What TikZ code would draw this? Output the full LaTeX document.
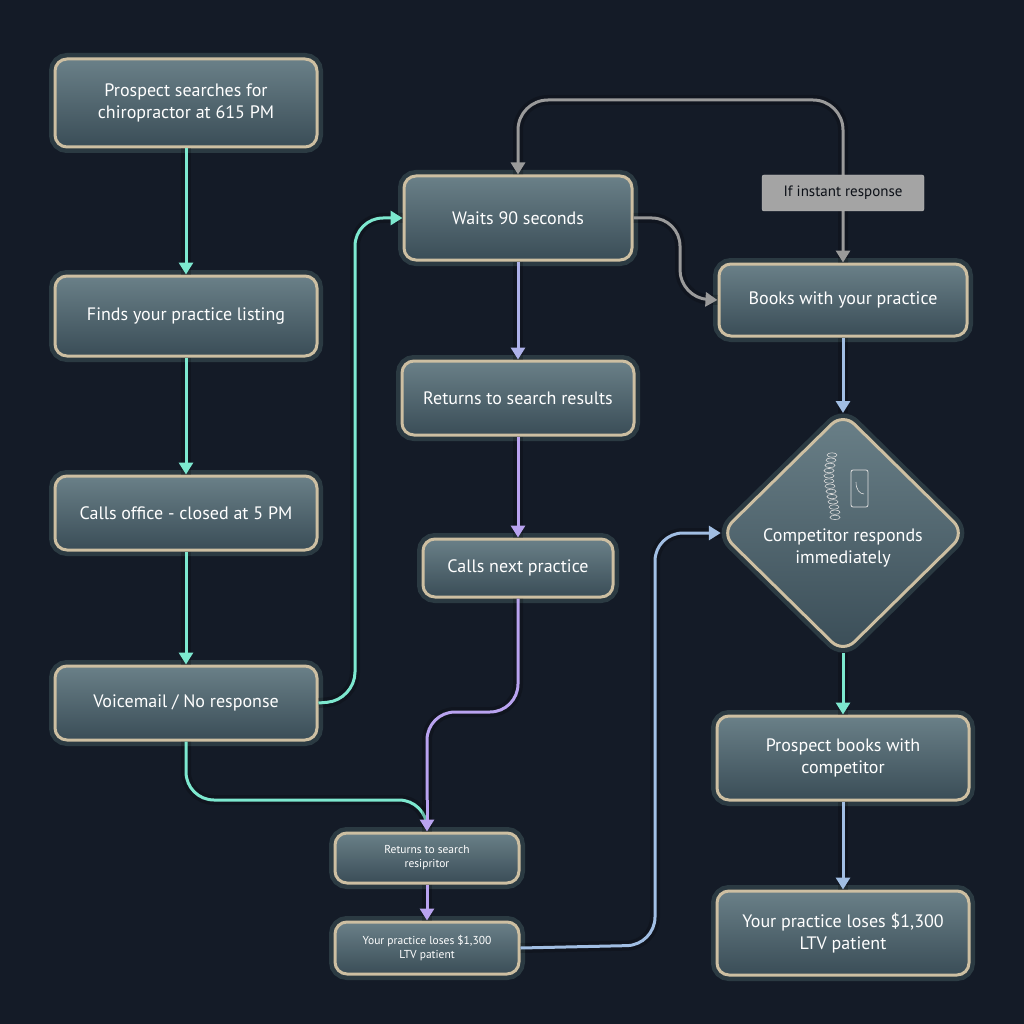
\documentclass[tikz,border=0pt]{standalone}
\usepackage{fontspec}
\setmainfont{PT Sans}
\usetikzlibrary{arrows.meta,shapes.geometric}
\definecolor{bg}{HTML}{141B27}
\definecolor{cy}{HTML}{7DE8CF}
\definecolor{lv}{HTML}{B9A3F0}
\definecolor{gy}{HTML}{9A9A9A}
\definecolor{bord}{HTML}{CDBFA2}
\definecolor{fillA}{HTML}{6A8088}
\definecolor{fillB}{HTML}{3A4D57}
\begin{document}
\begin{tikzpicture}[x=1pt,y=-1pt,
 box/.style={draw=bord,line width=3pt,rounded corners=12pt,top color=fillA,bottom color=fillB,
   text=white,align=center,font=\fontsize{18}{22}\selectfont,inner sep=0pt,
   preaction={draw=cy!60!white,line width=12pt,opacity=0.15}},
 sbox/.style={box,font=\fontsize{11.5}{14}\selectfont},
 ln/.style={line width=3pt,-{Triangle[length=12pt,width=14pt]},rounded corners=28pt,
   preaction={draw,line width=10pt,opacity=0.2,-}},
 cyl/.style={ln,cy},lvl/.style={ln,lv},gyl/.style={ln,gy}]
\fill[bg] (0,0) rectangle (1024,1024);
\useasboundingbox (0,0) rectangle (1024,1024);
% nodes
\node[box,minimum width=262,minimum height=88] (A) at (186,103) {Prospect searches for\\chiropractor at 615 PM};
\node[box,minimum width=262,minimum height=80] (B) at (186,316) {Finds your practice listing};
\node[box,minimum width=262,minimum height=74] (C) at (186,513) {Calls office - closed at 5 PM};
\node[box,minimum width=262,minimum height=74] (D) at (186,703) {Voicemail / No response};
\node[box,minimum width=228,minimum height=84] (E) at (518,218) {Waits 90 seconds};
\node[box,minimum width=232,minimum height=74] (F) at (518,398) {Returns to search results};
\node[box,minimum width=190,minimum height=58] (G) at (518,568) {Calls next practice};
\node[box,minimum width=248,minimum height=72] (H) at (843,300) {Books with your practice};
\node[box,minimum width=252,minimum height=84] (J) at (843,758) {Prospect books with\\competitor};
\node[box,minimum width=252,minimum height=84] (K) at (843,933) {Your practice loses \$1,300\\LTV patient};
\node[sbox,minimum width=184,minimum height=50] (L) at (427,858) {Returns to search\\resipritor};
\node[sbox,minimum width=184,minimum height=52] (M) at (427,948) {Your practice loses \$1,300\\LTV patient};
\path[draw=bord,line width=3pt,rounded corners=16pt,top color=fillA,bottom color=fillB,
   preaction={draw=cy!60!white,line width=12pt,opacity=0.15}]
   (843,413) -- (965,533) -- (843,653) -- (721,533) -- cycle;
\node[draw=none,text=white,align=center,font=\fontsize{18}{22}\selectfont,inner sep=0pt,
  minimum width=244,minimum height=240] (I) at (843,533) {\\[20pt]Competitor responds\\immediately};
% icons
\draw[white!75!gray,line width=0.8pt,rounded corners=2pt] (851,470) rectangle (868,507);
\draw[white!75!gray,line width=0.6pt] (856,482) .. controls (856,490) and (860,494) .. (864,494);
\foreach \i/\dx in {0/0,1/-1,2/-2,3/-3,4/-3,5/-3,6/-2,7/-1,8/0,9/1,10/2,11/3,12/3}
  \draw[white!70!gray,line width=0.6pt] (832+\dx,455+\i*5.2) ellipse (5 and 2.2);
% edges
\draw[cyl] (A) -- (B);
\draw[cyl] (B) -- (C);
\draw[cyl] (C) -- (D);
\draw[cyl] (D.east) -- (355,700) -- (355,218) -- (E.west);
\draw[lvl,lv!80!cy] (E) -- (F);
\draw[lvl] (F) -- (G);
\draw[ln,lv,-] (G.south) -- (518,712) -- (427,712) -- (427,800);
\draw[cyl,-] (D.south) -- (186,800) -- (427,800) -- (427,820);
\draw[lvl] (427,800) -- (L.north);
\draw[lvl] (L) -- (M);
\draw[ln,lv!60!cy] (M.east) -- (655,945) -- (655,533) -- (I.west);
\draw[gyl] (E.east) -- (680,218) -- (680,298) -- (H.west);
\draw[gyl,{Triangle[length=12pt,width=14pt]}-{Triangle[length=12pt,width=14pt]},rounded corners=30pt]
  (E.north) -- (518,100) -- (843,100) -- (H.north);
\node[fill=gy!90!white,draw=gy!60!white,text=bg!60!black,font=\fontsize{15}{18}\selectfont,
  minimum width=162,minimum height=36,inner sep=0pt,rounded corners=2pt] (lab) at (843,193) {If instant response};
\draw[lvl,lv!60!cy] (H) -- (843,413);
\draw[cyl] (843,653) -- (J);
\draw[lvl,lv!60!cy] (J) -- (K);
\end{tikzpicture}
\end{document}
